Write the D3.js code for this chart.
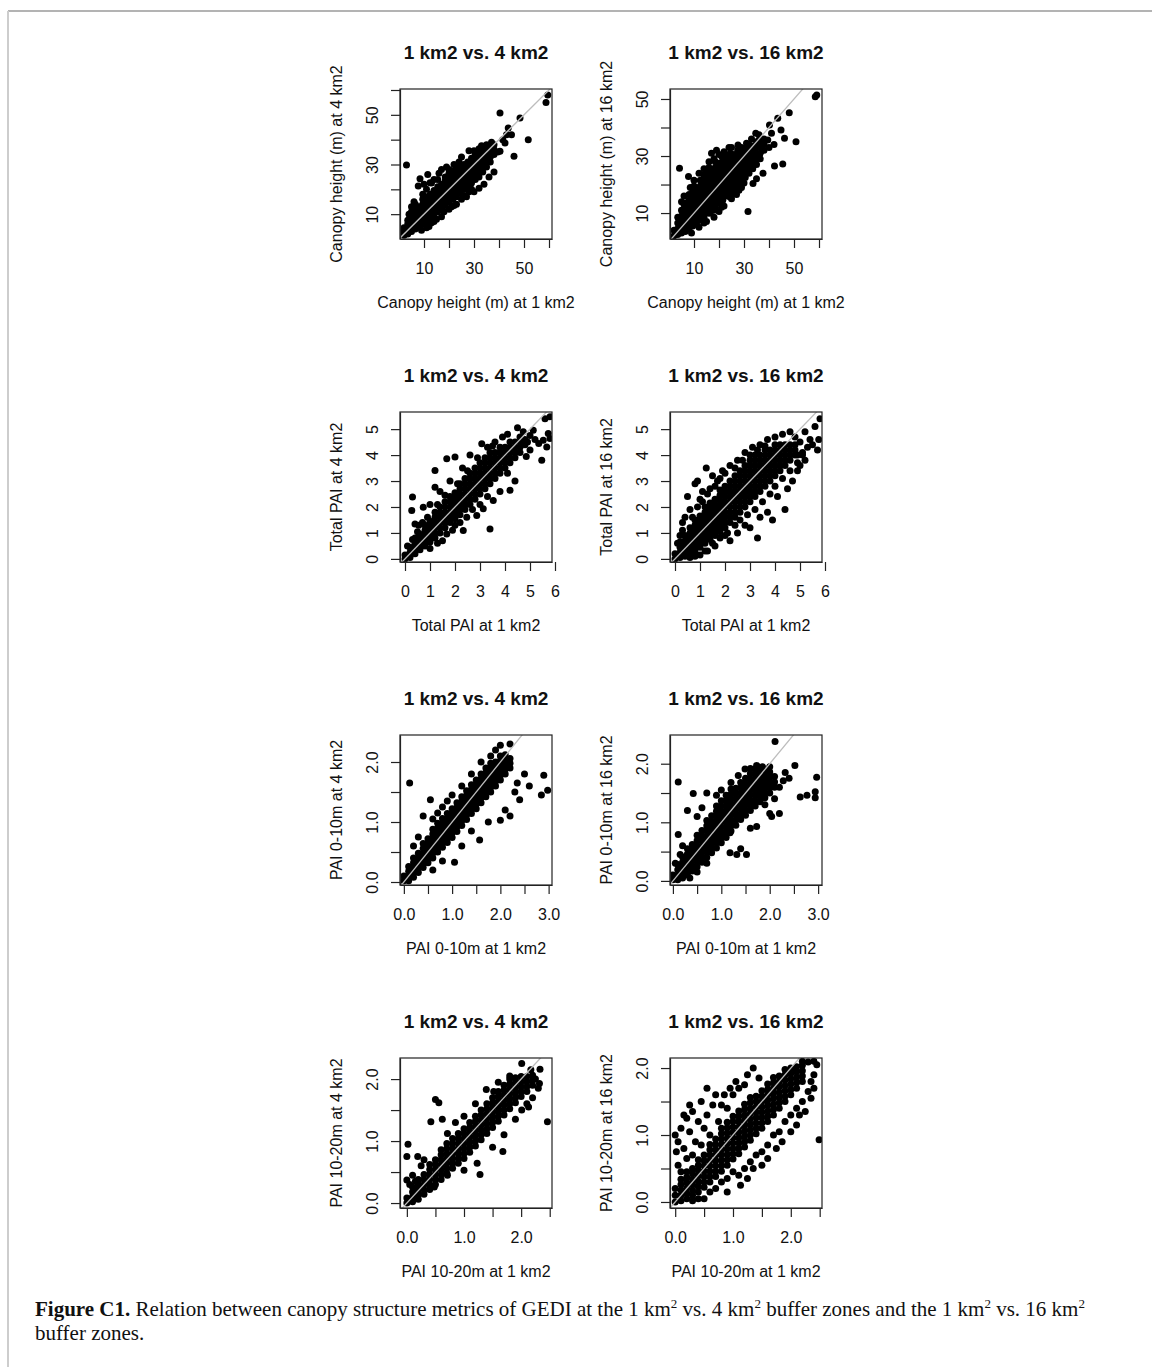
<!DOCTYPE html>
<html>
<head>
<meta charset="utf-8">
<script src="https://cdn.jsdelivr.net/npm/d3@7"></script>
<style>
  body { margin: 0; background: #fff; }
  text { font-family: "Liberation Sans", Arial, sans-serif; fill: #111; }
  .cap text { font-family: "Liberation Serif", "Times New Roman", serif; }
</style>
</head>
<body>
<div id="chart"></div>
<script>
// ---- data ----
// core columns: [x, [y, y, ...]] ; extra: scattered points [x, y]
var heightCore4 = [
  [2,[1.5,3,4.5]], [3.5,[2,4,6,7.5]], [5,[3,5,7,9]], [6.5,[4,6,8,10,12]], [8,[5,7,9,11,13]],
  [9.5,[6,8,10,12,14,16]], [11,[7,9,11,13,15,17]], [12.5,[8,10,12,14,16,18]],
  [14,[9.5,11.5,13.5,15.5,17.5,19.5]], [15.5,[11,13,15,17,19,21]], [17,[12,14,16,18,20,22]],
  [18.5,[13.5,15.5,17.5,19.5,21.5,23.5,25]], [20,[15,17,19,21,23,25,26.5]],
  [21.5,[16,18,20,22,24,26,27.5]], [23,[17,19,21,23,25,27,29]], [24.5,[18.5,20.5,22.5,24.5,26.5,28.5]],
  [26,[20,22,24,26,28,30]], [27.5,[21,23,25,27,29,31]], [29,[22.5,24.5,26.5,28.5,30.5,32.5]],
  [30.5,[24,26,28,30,32,34]], [32,[25,27,29,31,33,35]], [33.5,[27,29,31,33,35]],
  [35,[29,31,33,35,36.5]], [36.5,[31,33,35,37]], [38,[34,36,38]]
];
var heightExtra4 = [
  [3,29.8],[7.7,21.3],[8.4,24.3],[11.5,26],[10,22],[12.4,22.7],[6,15],[5,13],[14,24],[17,28],
  [16,26.5],[19,29],[25,33],[28,35.5],[32,36.3],[22,13.5],[20,12],[17,9],[14,7],[12,5],
  [25,16],[27,17],[30,19],[32,20.4],[34,22],[36,25],[38,27],[9,3.5],[11,4.5],[35,38],
  [37,39],[39.5,35],[40.4,35.3],[40.4,50.7],[41.5,40],[42.4,38.7],[43,42],[43.7,44.7],
  [45,42],[46,33.3],[48.4,48.7],[51.7,40],[58.8,55],[59.5,58],[29,20],[21,13],[35.7,36],
  [18,11],[20,28],[22,30],[24,31],[15,8],[13,6.5],[26,17.5],[28,19],[9.5,18],[11,20],
  [13,22.5],[15.5,24],[30,35.5],[33,37.5],[23,14],[6.5,14],[4,10],[5,11]
];

var heightCore16 = [
  [2,[2,4]], [3.5,[2.5,4.5,6.5,8.5]], [5,[3,5,7,9,11]], [6.5,[3.5,5.5,7.5,9.5,11.5,13.5]],
  [8,[4.5,6.5,8.5,10.5,12.5,14.5]], [9.5,[5.5,7.5,9.5,11.5,13.5,15.5,17.5]],
  [11,[6.5,8.5,10.5,12.5,14.5,16.5,18.5]], [12.5,[7.5,9.5,11.5,13.5,15.5,17.5,19.5,21.5]],
  [14,[8.5,10.5,12.5,14.5,16.5,18.5,20.5,22.5]], [15.5,[10,12,14,16,18,20,22,24]],
  [17,[11,13,15,17,19,21,23,25]], [18.5,[12,14,16,18,20,22,24,26,28]],
  [20,[13.5,15.5,17.5,19.5,21.5,23.5,25.5,27.5]], [21.5,[14.5,16.5,18.5,20.5,22.5,24.5,26.5,28.5]],
  [23,[16,18,20,22,24,26,28,30]], [24.5,[17,19,21,23,25,27,29,31]],
  [26,[18.5,20.5,22.5,24.5,26.5,28.5,30.5]], [27.5,[20,22,24,26,28,30,32]],
  [29,[21,23,25,27,29,31,33]], [30.5,[22.5,24.5,26.5,28.5,30.5,32.5]],
  [32,[24,26,28,30,32,34]], [33.5,[25.5,27.5,29.5,31.5,33.5]], [35,[27,29,31,33,35]],
  [36.5,[29,31,33,35]], [38,[32,34,36]]
];
var heightExtra16 = [
  [4.2,25.7],[7.8,22.8],[8.5,19],[6,16],[10,21.5],[12,24],[14,25.5],[16,28],[17,31],[19,32],
  [21,30],[24,33],[27.6,33.9],[31,34.5],[36,35.6],[9,3],[12,5],[14,6.5],[16.4,9.9],[18,11],
  [21,12],[24.3,15.7],[26,17],[28,18],[31.6,10.5],[33.6,20.4],[35,22],[37.6,24],[34.7,38],
  [36,37.5],[39.5,35.6],[40.2,40.9],[41,38],[42.2,26.5],[43.5,43.2],[44.8,39.1],[45.5,27.2],
  [46.2,36.2],[48.1,45.2],[50.8,35],[58.5,50.8],[59.1,51.4],[40,33],[42,34],
  [20,10.5],[22,12.5],[18,8.5],[15,7],[25,15],[27,16.5],[29,19],[30,20.5],[14,23.5],[16,26],
  [18,29],[20,30.5],[22,31.5],[25,33],[10,19.5],[8,16.5],[6,13],[5,14],[28,33],[33,36]
];

var paiCore4 = [
  [0,[0,0.15]], [0.2,[0.05,0.25,0.45]], [0.4,[0.2,0.4,0.6,0.8]], [0.6,[0.35,0.55,0.75,0.95]],
  [0.8,[0.5,0.7,0.9,1.1,1.3]], [1,[0.65,0.85,1.05,1.25,1.45]], [1.2,[0.8,1,1.2,1.4,1.6,1.8]],
  [1.4,[1,1.2,1.4,1.6,1.8,2]], [1.6,[1.2,1.4,1.6,1.8,2,2.2]], [1.8,[1.4,1.6,1.8,2,2.2,2.4]],
  [2,[1.55,1.75,1.95,2.15,2.35,2.55]], [2.2,[1.7,1.9,2.1,2.3,2.5,2.7,2.9]],
  [2.4,[1.9,2.1,2.3,2.5,2.7,2.9,3.1]], [2.6,[2.1,2.3,2.5,2.7,2.9,3.1,3.3]],
  [2.8,[2.3,2.5,2.7,2.9,3.1,3.3,3.5]], [3,[2.5,2.7,2.9,3.1,3.3,3.5,3.7]],
  [3.2,[2.7,2.9,3.1,3.3,3.5,3.7,3.9]], [3.4,[2.9,3.1,3.3,3.5,3.7,3.9,4.1]],
  [3.6,[3.1,3.3,3.5,3.7,3.9,4.1]], [3.8,[3.3,3.5,3.7,3.9,4.1,4.3]], [4,[3.5,3.7,3.9,4.1,4.3]],
  [4.2,[3.7,3.9,4.1,4.3,4.5]], [4.4,[3.9,4.1,4.3,4.5]], [4.6,[4.1,4.3,4.5,4.7]], [4.8,[4.4,4.6]]
];
var paiExtra4 = [
  [0.3,2.38],[0.27,1.86],[0.4,1.34],[0.55,1.3],[0.73,1.99],[0.9,1.6],[1.2,3.41],[1.2,2.76],
  [1,2.1],[1.4,2.6],[1.67,3.86],[2,3.93],[1.8,3],[2.3,3.5],[2.6,4],[3.07,4.44],[3.3,4.3],
  [3.6,4.5],[3.9,4.7],[4.1,4.8],[4.5,5.05],[1.13,0.83],[1.5,0.7],[1.67,0.96],[2,1.3],
  [2.33,1.09],[2.47,1.6],[2.87,1.67],[3.13,1.93],[3.4,1.15],[3.53,2.25],[3.8,2.6],[4.2,2.64],
  [4.4,3],[4.1,3.3],[4.73,4.9],[4.85,3.95],[5,4.2],[5.13,4.96],[5.2,4.6],[5.35,4.45],
  [5.47,3.8],[5.53,4.57],[5.67,4.31],[5.73,4.83],[5.8,4.64],[5.8,5.48],[5.6,5.4],[5,4.75],[4.9,4.5],
  [0.1,0.5],[0.3,0.75],[0.5,1.05],[0.7,1.4],[1.3,2.1],[1.6,2.45],[2.1,2.9],[2.5,3.4],
  [2.9,3.9],[3.5,4.35],[1,0.4],[1.3,0.6],[1.9,1.1],[2.2,1.4],[2.7,1.9],[3,2.1],[3.3,2.4]
];

var paiCore16 = [
  [0,[0,0.2]], [0.2,[0.05,0.25,0.45,0.65]], [0.4,[0.1,0.3,0.5,0.7,0.9]],
  [0.6,[0.2,0.4,0.6,0.8,1,1.2]], [0.8,[0.3,0.5,0.7,0.9,1.1,1.3,1.5]],
  [1,[0.45,0.65,0.85,1.05,1.25,1.45,1.65]], [1.2,[0.6,0.8,1,1.2,1.4,1.6,1.8,2]],
  [1.4,[0.75,0.95,1.15,1.35,1.55,1.75,1.95,2.15]], [1.6,[0.9,1.1,1.3,1.5,1.7,1.9,2.1,2.3]],
  [1.8,[1.05,1.25,1.45,1.65,1.85,2.05,2.25,2.45,2.65]], [2,[1.2,1.4,1.6,1.8,2,2.2,2.4,2.6,2.8]],
  [2.2,[1.4,1.6,1.8,2,2.2,2.4,2.6,2.8,3]], [2.4,[1.6,1.8,2,2.2,2.4,2.6,2.8,3,3.2]],
  [2.6,[1.8,2,2.2,2.4,2.6,2.8,3,3.2,3.4]], [2.8,[2,2.2,2.4,2.6,2.8,3,3.2,3.4,3.6]],
  [3,[2.2,2.4,2.6,2.8,3,3.2,3.4,3.6,3.8]], [3.2,[2.4,2.6,2.8,3,3.2,3.4,3.6,3.8,4]],
  [3.4,[2.6,2.8,3,3.2,3.4,3.6,3.8,4]], [3.6,[2.8,3,3.2,3.4,3.6,3.8,4,4.2]],
  [3.8,[3,3.2,3.4,3.6,3.8,4,4.2]], [4,[3.2,3.4,3.6,3.8,4,4.2,4.4]], [4.2,[3.4,3.6,3.8,4,4.2,4.4]],
  [4.4,[3.6,3.8,4,4.2,4.4]], [4.6,[3.8,4,4.2,4.4]], [4.8,[4,4.2,4.4]]
];
var paiExtra16 = [
  [0.3,1.4],[0.5,2.4],[0.6,1.9],[0.8,2.9],[0.9,3],[1,2.3],[1.25,3.5],[1.1,2.6],[1.3,2.5],[1.5,3.2],
  [1.7,3],[1.9,3.4],[2.2,3.6],[2.5,3.8],[2.8,4.1],[3.1,4.3],[3.4,4.4],[3.7,4.6],[4,4.7],[4.3,4.8],
  [4.6,4.9],[1,0.15],[1.3,0.3],[1.6,0.5],[2,0.9],[2.2,0.7],[2.5,1],[2.8,1.3],[3,1.2],[3.3,0.8],
  [3.4,1.6],[3.7,1.8],[3.9,1.5],[4.1,2.4],[4.4,1.9],[4.5,2.7],[4.7,3],[4.9,3.4],[5,3.6],[5.1,4],
  [5.2,3.8],[5.3,4.3],[5.4,4.6],[5.5,4.4],[5.6,5.1],[5.7,4.2],[5.8,5.4],[5.75,4.6],[5,4.5],
  [4.8,4.7],[5.2,4.9],
  [0.1,0.6],[0.2,0.9],[0.3,1.1],[0.4,1.6],[0.7,1.6],[0.9,2],[1.1,2.2],[1.4,2.7],[1.6,2.8],
  [1.8,3.1],[2,3.3],[2.4,3.5],[2.7,3.8],[3,4],[3.3,4.2],[3.6,4.35],[0.6,0.05],[0.8,0.1],
  [1.2,0.3],[1.5,0.6],[1.8,0.8],[2.1,1],[2.4,1.3],[2.6,1.5],[2.9,1.7],[3.2,1.9],[3.5,2.2],
  [3.8,2.5],[4,2.8],[4.3,3.1],[4.6,3.4],[4.9,3.7],[5.1,4.1],[4.9,4]
];

var low10Core4 = [
  [0,[0.02,0.1]], [0.1,[0.02,0.1,0.18,0.26]], [0.2,[0.08,0.16,0.24,0.32,0.4]],
  [0.3,[0.16,0.24,0.32,0.4,0.48]], [0.4,[0.24,0.32,0.4,0.48,0.56,0.64]],
  [0.5,[0.32,0.4,0.48,0.56,0.64,0.72]], [0.6,[0.4,0.48,0.56,0.64,0.72,0.8,0.88]],
  [0.7,[0.5,0.58,0.66,0.74,0.82,0.9,0.98]], [0.8,[0.58,0.66,0.74,0.82,0.9,0.98,1.06]],
  [0.9,[0.66,0.74,0.82,0.9,0.98,1.06,1.14]], [1,[0.74,0.82,0.9,0.98,1.06,1.14,1.22]],
  [1.1,[0.84,0.92,1,1.08,1.16,1.24,1.32]], [1.2,[0.94,1.02,1.1,1.18,1.26,1.34,1.42]],
  [1.3,[1.04,1.12,1.2,1.28,1.36,1.44,1.52]], [1.4,[1.14,1.22,1.3,1.38,1.46,1.54,1.62]],
  [1.5,[1.22,1.3,1.38,1.46,1.54,1.62,1.7]], [1.6,[1.32,1.4,1.48,1.56,1.64,1.72,1.8]],
  [1.7,[1.42,1.5,1.58,1.66,1.74,1.82,1.9]], [1.8,[1.5,1.58,1.66,1.74,1.82,1.9,1.98]],
  [1.9,[1.6,1.68,1.76,1.84,1.92,2]], [2,[1.7,1.78,1.86,1.94,2.02,2.1]],
  [2.1,[1.8,1.88,1.96,2.04,2.12]], [2.2,[1.9,1.98,2.06]]
];
var low10Extra4 = [
  [0.12,1.65],[0.2,0.6],[0.3,0.75],[0.4,1.1],[0.55,1.37],[0.6,1.05],[0.7,1.15],[0.8,1.25],
  [0.9,1.35],[1,1.45],[1.2,1.6],[1.4,1.8],[1.6,2],[1.8,2.1],[1.9,2.2],[2,2.28],[2.2,2.3],
  [0.6,0.2],[0.8,0.35],[1.05,0.33],[1.2,0.6],[1.4,0.85],[1.57,0.7],[1.75,1],[2,1.03],[2.1,1.2],
  [2.2,1.1],[2.3,1.5],[2.4,1.37],[2.35,1.65],[2.5,1.8],[2.6,1.6],[2.9,1.78],[2.98,1.53],[2.85,1.45]
];

var low10Core16 = [
  [0,[0.02,0.1]], [0.1,[0.02,0.1,0.19,0.28]], [0.2,[0.05,0.14,0.23,0.32,0.41]],
  [0.3,[0.1,0.19,0.28,0.37,0.46,0.55]], [0.4,[0.17,0.26,0.35,0.44,0.53,0.62]],
  [0.5,[0.24,0.33,0.42,0.51,0.6,0.69,0.78]], [0.6,[0.32,0.41,0.5,0.59,0.68,0.77,0.86]],
  [0.7,[0.4,0.49,0.58,0.67,0.76,0.85,0.94,1.03]], [0.8,[0.48,0.57,0.66,0.75,0.84,0.93,1.02,1.11]],
  [0.9,[0.56,0.65,0.74,0.83,0.92,1.01,1.1,1.19,1.28]], [1,[0.65,0.74,0.83,0.92,1.01,1.1,1.19,1.28,1.37]],
  [1.1,[0.74,0.83,0.92,1.01,1.1,1.19,1.28,1.37,1.46]], [1.2,[0.85,0.94,1.03,1.12,1.21,1.3,1.39,1.48,1.57]],
  [1.3,[0.95,1.04,1.13,1.22,1.31,1.4,1.49,1.58]], [1.4,[1.05,1.14,1.23,1.32,1.41,1.5,1.59,1.68]],
  [1.5,[1.12,1.21,1.3,1.39,1.48,1.57,1.66,1.75]], [1.6,[1.2,1.29,1.38,1.47,1.56,1.65,1.74,1.83]],
  [1.7,[1.28,1.37,1.46,1.55,1.64,1.73,1.82,1.91]], [1.8,[1.35,1.44,1.53,1.62,1.71,1.8,1.89]],
  [1.9,[1.42,1.51,1.6,1.69,1.78,1.87]], [2,[1.5,1.59,1.68,1.77,1.86]], [2.1,[1.6,1.69,1.78]]
];
var low10Extra16 = [
  [0.11,1.69],[2.11,2.38],[2.52,1.97],[2.97,1.77],[2.94,1.52],[2.94,1.42],[2.63,1.43],[2.77,1.46],
  [2.04,1.1],[2.2,1.15],[1.18,0.48],[1.32,0.45],[1.52,0.45],[1.4,0.55],[0.11,0.79],[0.42,1.49],
  [0.7,1.5],[0.9,1.46],[0.3,1.2],[0.5,1.1],[0.6,1.25],[1.49,1.91],[1.73,1.97],[2,1.95],[2.32,1.85],
  [2.28,1.71],[2.2,1.6],[2.4,1.75],[0.9,0.76],[1.18,0.82],[1.73,0.93],[2,1.15],[1.6,0.9],[1.9,1.3],
  [2.1,1.4],[0.35,0.05],[0.5,0.15],[0.7,0.3],[0.2,0.6],[0.15,0.45],[0.05,0.3],[1,1.55],[1.2,1.68],
  [1.35,1.8],[1.6,1.92],[1.85,1.95]
];

var mid20Core4 = [
  [0,[0,0.08]], [0.1,[0.02,0.1,0.18,0.26]], [0.2,[0.06,0.14,0.22,0.3,0.38]],
  [0.3,[0.14,0.22,0.3,0.38,0.46]], [0.4,[0.22,0.3,0.38,0.46,0.54,0.62]],
  [0.5,[0.3,0.38,0.46,0.54,0.62,0.7]], [0.6,[0.38,0.46,0.54,0.62,0.7,0.78,0.86]],
  [0.7,[0.48,0.56,0.64,0.72,0.8,0.88,0.96]], [0.8,[0.56,0.64,0.72,0.8,0.88,0.96,1.04]],
  [0.9,[0.64,0.72,0.8,0.88,0.96,1.04,1.12]], [1,[0.72,0.8,0.88,0.96,1.04,1.12,1.2]],
  [1.1,[0.82,0.9,0.98,1.06,1.14,1.22,1.3]], [1.2,[0.92,1,1.08,1.16,1.24,1.32,1.4]],
  [1.3,[1.02,1.1,1.18,1.26,1.34,1.42,1.5]], [1.4,[1.12,1.2,1.28,1.36,1.44,1.52,1.6]],
  [1.5,[1.22,1.3,1.38,1.46,1.54,1.62,1.7]], [1.6,[1.32,1.4,1.48,1.56,1.64,1.72,1.8]],
  [1.7,[1.42,1.5,1.58,1.66,1.74,1.82,1.9]], [1.8,[1.52,1.6,1.68,1.76,1.84,1.92,2]],
  [1.9,[1.62,1.7,1.78,1.86,1.94,2.02]], [2,[1.72,1.8,1.88,1.96,2.04]],
  [2.1,[1.8,1.88,1.96,2.04]], [2.2,[1.9,1.98,2.06]]
];
var mid20Extra4 = [
  [0.02,0.95],[0,0.75],[0,0.37],[0.5,1.67],[0.56,1.62],[0.42,1.31],[0.62,1.35],[0.3,0.7],[0.19,0.75],
  [0.25,0.6],[0.71,1.12],[0.85,1.3],[1,1.4],[1.2,1.6],[1.39,1.83],[1.52,1.8],[1.68,0.83],[1.28,0.46],
  [2.46,1.31],[2.01,2.25],[2.17,2.15],[2.33,2.16],[2.32,1.93],[2.25,2],[2.01,1.5],[2.13,1.55],[2.2,1.7],
  [0.48,0.26],[0.71,0.45],[1,0.53],[1.23,0.64],[1.5,0.9],[1.7,1.1],[1.9,1.35],[2.1,1.6],[2.3,1.85],
  [1.8,2.05],[1.6,1.95],[0.1,0.45],[0.05,0.3],[0.15,0.35]
];

var mid20Core16 = [
  [0,[0,0.1,0.2]], [0.1,[0.02,0.1,0.18,0.26,0.34]], [0.2,[0.05,0.13,0.21,0.29,0.37,0.45]],
  [0.3,[0.1,0.18,0.26,0.34,0.42,0.5]], [0.4,[0.15,0.23,0.31,0.39,0.47,0.55,0.63]],
  [0.5,[0.22,0.3,0.38,0.46,0.54,0.62,0.7]], [0.6,[0.3,0.38,0.46,0.54,0.62,0.7,0.78,0.86]],
  [0.7,[0.38,0.46,0.54,0.62,0.7,0.78,0.86,0.94]], [0.8,[0.46,0.54,0.62,0.7,0.78,0.86,0.94,1.02,1.1]],
  [0.9,[0.55,0.63,0.71,0.79,0.87,0.95,1.03,1.11,1.19]], [1,[0.64,0.72,0.8,0.88,0.96,1.04,1.12,1.2,1.28]],
  [1.1,[0.72,0.8,0.88,0.96,1.04,1.12,1.2,1.28,1.36]], [1.2,[0.82,0.9,0.98,1.06,1.14,1.22,1.3,1.38,1.46]],
  [1.3,[0.92,1,1.08,1.16,1.24,1.32,1.4,1.48,1.56]], [1.4,[1.02,1.1,1.18,1.26,1.34,1.42,1.5,1.58]],
  [1.5,[1.1,1.18,1.26,1.34,1.42,1.5,1.58,1.66]], [1.6,[1.2,1.28,1.36,1.44,1.52,1.6,1.68,1.76]],
  [1.7,[1.3,1.38,1.46,1.54,1.62,1.7,1.78,1.86]], [1.8,[1.4,1.48,1.56,1.64,1.72,1.8,1.88]],
  [1.9,[1.5,1.58,1.66,1.74,1.82,1.9,1.98]], [2,[1.6,1.68,1.76,1.84,1.92,2]],
  [2.1,[1.7,1.78,1.86,1.94,2.02]], [2.2,[1.8,1.88,1.96,2.04]]
];
var mid20Extra16 = [
  [0,1],[0.02,0.75],[0.05,0.55],[0.1,0.45],[0.15,0.8],[0.2,0.65],[0.25,1.05],[0.3,0.7],[0.35,0.9],
  [0.4,1.2],[0.45,0.85],[0.5,1.1],[0.55,1.3],[0.6,1],[0.7,1.6],[0.75,1.2],[0.8,1.45],[0.9,1.4],[1,1.6],
  [1.1,1.7],[1.2,1.75],[0.5,0.05],[0.6,0.15],[0.7,0.2],[0.8,0.3],[0.9,0.35],[1,0.45],[1.13,0.25],
  [1.2,0.5],[1.3,0.6],[1.4,0.7],[1.5,0.75],[1.6,0.85],[1.7,1],[1.8,1.05],[1.9,1.2],[2,1.3],[2.1,1.4],
  [2.2,1.5],[2.3,1.65],[2.2,2.1],[2.3,2.09],[2.09,1.97],[2.4,1.9],[2.49,0.93],[2.35,1.8],
  [0.05,0.9],[0.1,1.1],[0.2,1.25],[0.3,1.35],[0.45,1.5],[0.55,1.7],[0.65,1.45],[0.85,1.6],
  [0.95,1.7],[1.05,1.8],[1.25,1.9],[1.35,2],[1.45,1.85],[0.3,0.02],[0.4,0.05],[0.9,0.15],
  [1.1,0.4],[1.25,0.35],[1.35,0.5],[1.5,0.55],[1.6,0.65],[1.75,0.8],[1.85,0.9],[2,1.05],
  [2.1,1.15],[2.15,1.3],[2.25,1.35],[2.35,1.55],[2.4,1.7],[2.45,2.05],[2.4,2.1],[0.15,1.3],[0.25,1.45]
];

// axis ticks and labels ("" = unlabelled tick, as R drops crowded labels)
var heightTicks = [10, 20, 30, 40, 50, 60];
var heightTickLabels = ["10", "", "30", "", "50", ""];
var heightTicks16y = [10, 20, 30, 40, 50];
var heightTickLabels16y = ["10", "", "30", "", "50"];
var paiXTicks = [0, 1, 2, 3, 4, 5, 6];
var paiYTicks = [0, 1, 2, 3, 4, 5];
var low10XTicks = [0, 0.5, 1, 1.5, 2, 2.5, 3];
var low10XLabels = ["0.0", "", "1.0", "", "2.0", "", "3.0"];
var halfYTicks = [0, 0.5, 1, 1.5, 2];
var halfYLabels = ["0.0", "", "1.0", "", "2.0"];
var mid20XTicks = [0, 0.5, 1, 1.5, 2, 2.5];
var mid20XLabels = ["0.0", "", "1.0", "", "2.0", ""];

var titles = ["1 km2 vs. 4 km2", "1 km2 vs. 16 km2"];

// ---- layout ----
var W = 1152, H = 1367;
var colX = [400, 670], rowY = [89, 412, 735, 1058];
var boxW = 152, boxH = 150;
var dotR = 3.5;

var svg = d3.select("#chart").append("svg")
    .attr("width", W).attr("height", H)
    .style("display", "block");

// page frame
svg.append("line").attr("x1", 8).attr("x2", W).attr("y1", 11).attr("y2", 11)
    .attr("stroke", "#9a9a9a").attr("stroke-width", 1.5);
svg.append("line").attr("x1", 8).attr("x2", 8).attr("y1", 11).attr("y2", H)
    .attr("stroke", "#cdcdcd").attr("stroke-width", 2);

function flatten(core, extra) {
    var pts = [];
    core.forEach(function(c) {
        c[1].forEach(function(v) { pts.push([c[0], v]); });
    });
    return pts.concat(extra);
}

var panels = [
  {row:0, col:0, title:titles[0], xlab:"Canopy height (m) at 1 km2", ylab:"Canopy height (m) at 4 km2",
   xd:[0.4, 61.2], yd:[0, 60.4], xt:heightTicks, xl:heightTickLabels, yt:heightTicks, yl:heightTickLabels,
   pts:flatten(heightCore4, heightExtra4)},
  {row:0, col:1, title:titles[1], xlab:"Canopy height (m) at 1 km2", ylab:"Canopy height (m) at 16 km2",
   xd:[0.4, 61.2], yd:[0.9, 53.5], xt:heightTicks, xl:heightTickLabels, yt:heightTicks16y, yl:heightTickLabels16y,
   pts:flatten(heightCore16, heightExtra16)},
  {row:1, col:0, title:titles[0], xlab:"Total PAI at 1 km2", ylab:"Total PAI at 4 km2",
   xd:[-0.2, 5.88], yd:[-0.12, 5.66], xt:paiXTicks, xl:paiXTicks.map(String), yt:paiYTicks, yl:paiYTicks.map(String),
   pts:flatten(paiCore4, paiExtra4)},
  {row:1, col:1, title:titles[1], xlab:"Total PAI at 1 km2", ylab:"Total PAI at 16 km2",
   xd:[-0.2, 5.88], yd:[-0.12, 5.66], xt:paiXTicks, xl:paiXTicks.map(String), yt:paiYTicks, yl:paiYTicks.map(String),
   pts:flatten(paiCore16, paiExtra16)},
  {row:2, col:0, title:titles[0], xlab:"PAI 0-10m at 1 km2", ylab:"PAI 0-10m at 4 km2",
   xd:[-0.08, 3.07], yd:[-0.05, 2.45], xt:low10XTicks, xl:low10XLabels, yt:halfYTicks, yl:halfYLabels,
   pts:flatten(low10Core4, low10Extra4)},
  {row:2, col:1, title:titles[1], xlab:"PAI 0-10m at 1 km2", ylab:"PAI 0-10m at 16 km2",
   xd:[-0.06, 3.08], yd:[-0.07, 2.49], xt:low10XTicks, xl:low10XLabels, yt:halfYTicks, yl:halfYLabels,
   pts:flatten(low10Core16, low10Extra16)},
  {row:3, col:0, title:titles[0], xlab:"PAI 10-20m at 1 km2", ylab:"PAI 10-20m at 4 km2",
   xd:[-0.12, 2.54], yd:[-0.08, 2.34], xt:mid20XTicks, xl:mid20XLabels, yt:halfYTicks, yl:halfYLabels,
   pts:flatten(mid20Core4, mid20Extra4)},
  {row:3, col:1, title:titles[1], xlab:"PAI 10-20m at 1 km2", ylab:"PAI 10-20m at 16 km2",
   xd:[-0.09, 2.54], yd:[-0.09, 2.15], xt:mid20XTicks, xl:mid20XLabels, yt:halfYTicks, yl:halfYLabels,
   pts:flatten(mid20Core16, mid20Extra16)}
];

panels.forEach(function(p, i) {
    var x = d3.scaleLinear().domain(p.xd).range([0, boxW]);
    var y = d3.scaleLinear().domain(p.yd).range([boxH, 0]);

    var g = svg.append("g")
        .attr("transform", "translate(" + colX[p.col] + "," + rowY[p.row] + ")");

    g.append("clipPath").attr("id", "clip" + i)
        .append("rect").attr("width", boxW).attr("height", boxH);

    var plot = g.append("g").attr("clip-path", "url(#clip" + i + ")");

    plot.selectAll("circle")
        .data(p.pts)
        .enter().append("circle")
        .attr("cx", function(d) { return x(d[0]); })
        .attr("cy", function(d) { return y(d[1]); })
        .attr("r", dotR)
        .attr("fill", "#000");

    // 1:1 line
    var lo = Math.min(p.xd[0], p.yd[0]), hi = Math.max(p.xd[1], p.yd[1]);
    plot.append("line")
        .attr("x1", x(lo)).attr("y1", y(lo))
        .attr("x2", x(hi)).attr("y2", y(hi))
        .attr("stroke", "#bdbdbd").attr("stroke-width", 1.3);

    g.append("rect")
        .attr("width", boxW).attr("height", boxH)
        .attr("fill", "none").attr("stroke", "#222").attr("stroke-width", 1.2);

    var xAxis = d3.axisBottom(x).tickValues(p.xt).tickSize(9).tickSizeOuter(0)
        .tickFormat(function(d, k) { return p.xl[k]; });
    var yAxis = d3.axisLeft(y).tickValues(p.yt).tickSize(9).tickSizeOuter(0)
        .tickFormat(function(d, k) { return p.yl[k]; });

    var xg = g.append("g").attr("transform", "translate(0," + boxH + ")").call(xAxis);
    var yg = g.append("g").call(yAxis);

    [xg, yg].forEach(function(a) {
        a.select(".domain").attr("stroke", "#222").attr("stroke-width", 1.2);
        a.selectAll(".tick line").attr("stroke", "#222").attr("stroke-width", 1.2);
        a.selectAll("text").style("font-family", "Liberation Sans, Arial, sans-serif")
            .style("font-size", "16px").attr("fill", "#111");
    });
    xg.selectAll(".tick text").attr("y", 35).attr("dy", null);
    yg.selectAll(".tick text").attr("x", null).attr("dy", null)
        .attr("text-anchor", "middle")
        .attr("transform", "translate(-22,0) rotate(-90)");

    g.append("text")
        .attr("x", boxW / 2).attr("y", -30)
        .attr("text-anchor", "middle")
        .style("font-size", "19px").style("font-weight", "bold")
        .text(p.title);

    g.append("text")
        .attr("x", boxW / 2).attr("y", boxH + 69)
        .attr("text-anchor", "middle")
        .style("font-size", "16px")
        .text(p.xlab);

    g.append("text")
        .attr("transform", "translate(-58," + (boxH / 2) + ") rotate(-90)")
        .attr("text-anchor", "middle")
        .style("font-size", "16px")
        .text(p.ylab);
});

// caption
var cap = svg.append("g").attr("class", "cap");
var line1 = cap.append("text").attr("x", 35).attr("y", 1316).style("font-size", "21px");
var parts = [
  ["Figure C1.", "b"], [" Relation between canopy structure metrics of GEDI at the 1 km", ""], ["2", "s"],
  [" vs. 4 km", ""], ["2", "s"], [" buffer zones and the 1 km", ""], ["2", "s"], [" vs. 16 km", ""], ["2", "s"]
];
parts.forEach(function(t, k) {
    var ts = line1.append("tspan").text(t[0]);
    if (t[1] == "b") ts.style("font-weight", "bold");
    if (t[1] == "s") ts.attr("dy", -8).style("font-size", "13px");
    else if (k > 0 && parts[k - 1][1] == "s") ts.attr("dy", 8);
});
cap.append("text").attr("x", 35).attr("y", 1340).style("font-size", "21px").text("buffer zones.");
</script>
</body>
</html>
